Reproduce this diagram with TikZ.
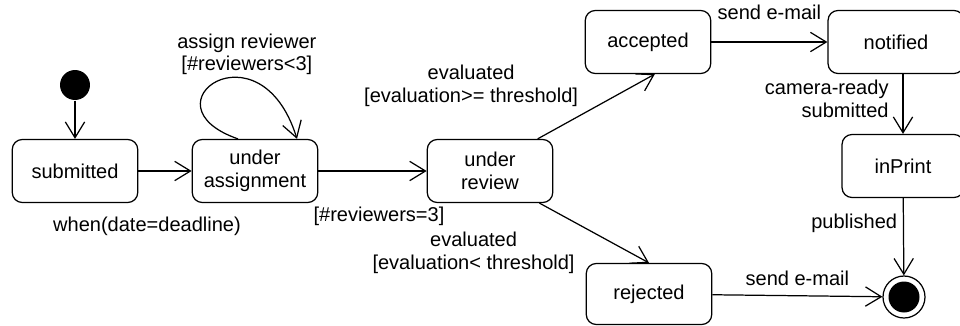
\documentclass[tikz,border=0pt]{standalone}
\usepackage{fontspec}
\setmainfont{Liberation Sans}
\usetikzlibrary{arrows.meta}

\begin{document}
\begin{tikzpicture}[x=0.02cm,y=-0.02cm,>={Straight Barb[length=9pt,width=11pt]},line width=0.7pt,
    every node/.style={font=\fontsize{11.4}{13}\selectfont},
    box/.style={draw,rounded corners=0.2cm,minimum width=2.51cm,minimum height=1.26cm,align=center}]
    \useasboundingbox (0,0) rectangle (960,325);

    \node (init) [circle,fill=black,inner sep=0pt,minimum size=0.6cm] at (75,85) {};
    \node (sub) [box] at (75,171) {submitted};
    \node (asg) [box] at (255,171) {under\\assignment};
    \node (rev) [box] at (490,171) {under\\review};
    \node (acc) [box] at (648,42) {accepted};
    \node (rej) [box,minimum height=1.22cm] at (649,294) {rejected};
    \node (ntf) [box,minimum width=2.72cm] at (896,42) {notified};
    \node (prt) [box,minimum width=2.44cm] at (903,166) {inPrint};
    \node (fin) [circle,draw,inner sep=0pt,minimum size=0.84cm,
        path picture={\fill (path picture bounding box.center) circle (0.31cm);}] at (904,297) {};

    \draw[->] (init) -- (sub);
    \draw[->] (sub) -- (asg) node[midway,below=0.8cm,xshift=-0.36cm] {when(date=deadline)};
    \draw[->] ([xshift=-0.34cm]asg.north) .. controls +(-98,-34) and +(-37,-119) .. ([xshift=0.84cm]asg.north)
        node[pos=0.5,anchor=south,xshift=0.6cm,align=center] {assign reviewer\\{[}\#reviewers<3{]}};
    \draw[->] (asg) -- (rev) node[midway,below=0.6cm,xshift=0.13cm] {{[}\#reviewers=3{]}};
    \draw[->] (rev.34) -- (acc.-78) node[pos=0.4,anchor=south east,align=center] {evaluated\\{[}evaluation>= threshold{]}};
    \draw[->] (rev.-33) -- (rej.north) node[pos=0.38,anchor=north east,align=center] {evaluated\\{[}evaluation< threshold{]}};
    \draw[->] (acc) -- (ntf) node[midway,above=0.31cm] {send e-mail};
    \draw[->] (ntf.south -| prt.north) -- (prt.north) node[midway,left=0.16cm,yshift=0.1cm,align=right] {camera-ready\\submitted};
    \draw[->] (prt) -- (fin) node[midway,left,yshift=0.26cm] {published};
    \draw[->] (rej) -- (fin) node[midway,above=0.07cm] {send e-mail};
\end{tikzpicture}
\end{document}
